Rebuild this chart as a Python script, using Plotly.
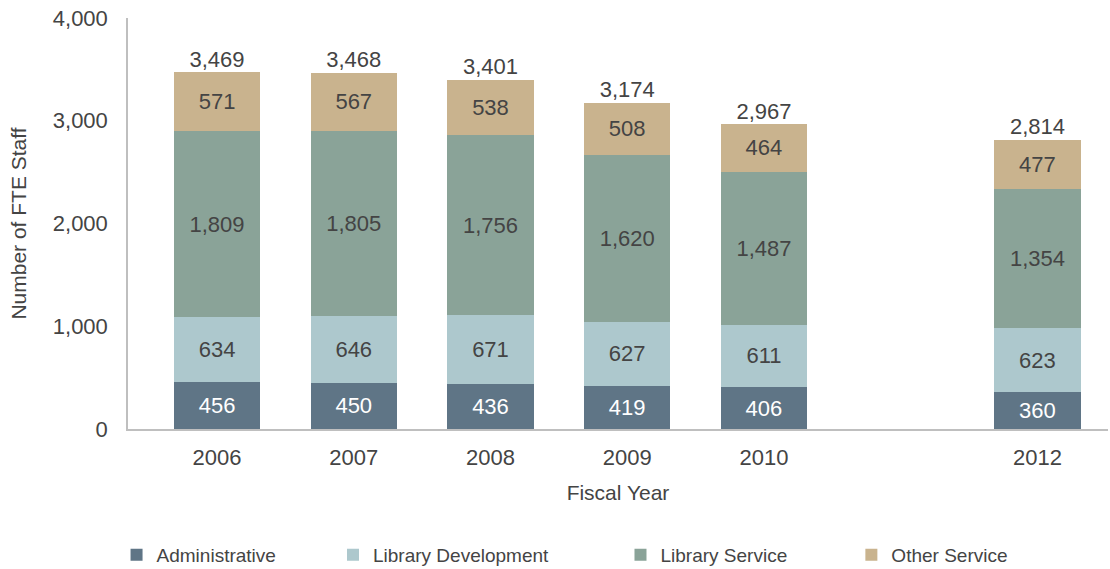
import plotly.graph_objects as go

years = [2006, 2007, 2008, 2009, 2010, 2012]
administrative = [456, 450, 436, 419, 406, 360]
library_development = [634, 646, 671, 627, 611, 623]
library_service = [1809, 1805, 1756, 1620, 1487, 1354]
other_service = [571, 567, 538, 508, 464, 477]
totals = [3469, 3468, 3401, 3174, 2967, 2814]

series = [
    ("Administrative", administrative, "#5f7586", "white", "legend", 0.105),
    ("Library Development", library_development, "#adc8cd", "#444444", "legend2", 0.300),
    ("Library Service", library_service, "#8aa398", "#444444", "legend3", 0.559),
    ("Other Service", other_service, "#c9b38e", "#444444", "legend4", 0.767),
]

FONT = "Liberation Sans, Arial"

fig = go.Figure()
for name, vals, color, tcolor, leg, lx in series:
    fig.add_trace(go.Bar(
        x=years, y=vals, name=name, marker=dict(color=color, line=dict(width=0)),
        text=[f"{v:,}" for v in vals], textposition="inside", insidetextanchor="middle",
        textfont=dict(color=tcolor, size=22, family=FONT), width=0.63,
        hoverinfo="skip", legend=leg,
    ))

fig.add_trace(go.Scatter(
    x=years, y=totals, mode="text", text=[f"{v:,}" for v in totals],
    textposition="top center", textfont=dict(size=22, color="#444444", family=FONT),
    showlegend=False, hoverinfo="skip", cliponaxis=False,
))

legend_common = dict(
    orientation="h", yref="container", y=0.025, yanchor="middle", xref="container",
    xanchor="left", font=dict(size=19, color="#444444"), bgcolor="rgba(0,0,0,0)",
)
leg_layout = {}
for name, vals, color, tcolor, leg, lx in series:
    leg_layout[leg] = dict(legend_common, x=lx)

fig.update_layout(
    barmode="stack",
    width=1110, height=569,
    margin=dict(l=128, r=2, t=18, b=140, autoexpand=False),
    plot_bgcolor="white", paper_bgcolor="white",
    font=dict(family=FONT, color="#444444", size=20),
    xaxis=dict(
        range=[2005.349, 2012.516], tickmode="array", tickvals=years,
        ticktext=[str(y) for y in years], showgrid=False, showline=True,
        linecolor="#bfbfbf", linewidth=1.5, ticks="", tickfont=dict(size=22),
        ticklabelstandoff=8, automargin=False, ticklabeloverflow="allow",
        title=dict(text="Fiscal Year", font=dict(size=21), standoff=16),
    ),
    yaxis=dict(
        range=[0, 4000], tickvals=[0, 1000, 2000, 3000, 4000],
        ticktext=["0", "1,000", "2,000", "3,000", "4,000"], showgrid=False,
        showline=True, linecolor="#bfbfbf", linewidth=1.5, ticks="",
        tickfont=dict(size=22), zeroline=False, ticklabelstandoff=14, automargin=False,
        ticklabeloverflow="allow",
        title=dict(text="Number of FTE Staff", font=dict(size=21), standoff=20),
    ),
    **leg_layout,
)

fig.write_html("out.html", post_script="document.body.style.margin='0';",
               config={"displayModeBar": False})
